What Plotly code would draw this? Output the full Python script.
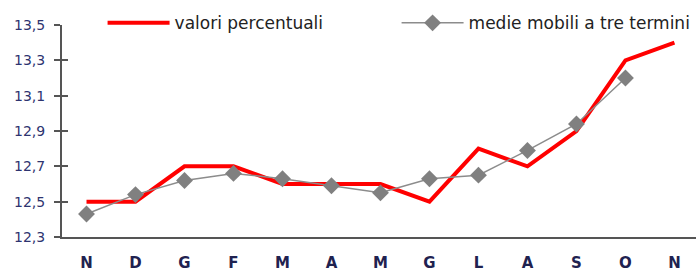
import plotly.graph_objects as go

months = ["N", "D", "G", "F", "M", "A", "M", "G", "L", "A", "S", "O", "N"]
valori = [12.5, 12.5, 12.7, 12.7, 12.6, 12.6, 12.6, 12.5, 12.8, 12.7, 12.9, 13.3, 13.4]
medie = [12.43, 12.54, 12.62, 12.66, 12.63, 12.59, 12.55, 12.63, 12.65, 12.79, 12.94, 13.2]
yticks = [12.3, 12.5, 12.7, 12.9, 13.1, 13.3, 13.5]

xs = list(range(len(months)))
FONT = "DejaVu Sans, Liberation Sans, Arial, sans-serif"

fig = go.Figure()
fig.add_trace(go.Scatter(
    x=xs, y=valori, mode="lines", name="valori percentuali",
    line=dict(color="#ff0000", width=4),
))
fig.add_trace(go.Scatter(
    x=xs[:len(medie)], y=medie, mode="lines+markers", name="medie mobili a tre termini",
    line=dict(color="#8c8c8c", width=1.5),
    marker=dict(symbol="diamond", size=13, color="#808080"),
))

fig.update_layout(
    width=696, height=271,
    margin=dict(l=62, r=0, t=25, b=34, autoexpand=False),
    paper_bgcolor="white", plot_bgcolor="white",
    separators=",.",
    font=dict(family=FONT, size=15, color="#222222"),
    showlegend=True,
    legend=dict(
        orientation="h", x=0.064, y=1.008, xanchor="left", yanchor="middle",
        bgcolor="rgba(0,0,0,0)", itemwidth=62,
        entrywidth=217, entrywidthmode="pixels",
        font=dict(family=FONT, size=17, color="#222222"),
    ),
    xaxis=dict(
        range=[-0.5, 12.44], tickmode="array", tickvals=xs, ticktext=months,
        showgrid=False, zeroline=False, showline=True, linecolor="#555555", linewidth=2,
        ticks="", ticklabelstandoff=11, automargin=False,
        tickfont=dict(family=FONT, size=15, color="#1f2250", weight="bold"),
    ),
    yaxis=dict(
        range=[12.3, 13.5], tickmode="array", tickvals=yticks, tickformat=".1f",
        showgrid=False, zeroline=False, showline=True, linecolor="#555555", linewidth=2,
        ticks="outside", ticklen=6, tickcolor="#555555", tickwidth=1.5,
        ticklabelstandoff=6, automargin=False,
        tickfont=dict(family=FONT, size=14, color="#2e3470"),
    ),
    yaxis2=dict(
        overlaying="y", side="left", range=[12.3, 13.5], tickmode="array", tickvals=yticks,
        showticklabels=False, showgrid=False, zeroline=False, showline=False,
        ticks="inside", ticklen=6, tickcolor="#555555", tickwidth=1.5, automargin=False,
    ),
)
fig.add_trace(go.Scatter(x=[None], y=[None], yaxis="y2", showlegend=False, hoverinfo="skip"))

fig.write_html(
    "out.html",
    config={"displayModeBar": False},
    post_script="document.body.style.margin='0';document.body.style.overflow='hidden';",
)
